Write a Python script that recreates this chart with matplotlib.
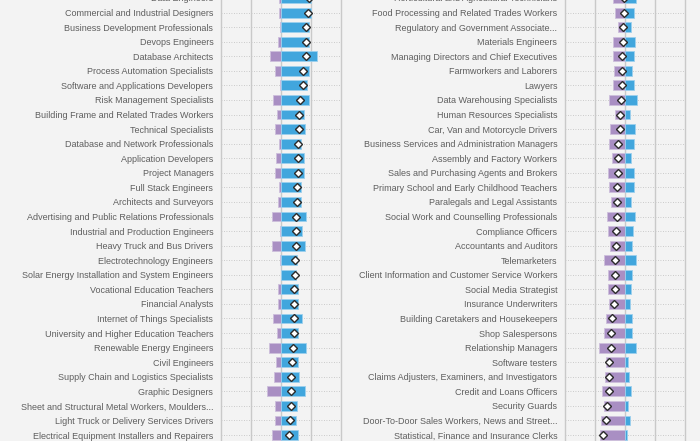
import numpy as np
import matplotlib
matplotlib.use('Agg')
import matplotlib.pyplot as plt

# left panel: rising occupations
left_jobs = ['Data Engineers', 'Commercial and Industrial Designers', 'Business Development Professionals',
             'Devops Engineers', 'Database Architects', 'Process Automation Specialists',
             'Software and Applications Developers', 'Risk Management Specialists',
             'Building Frame and Related Trades Workers', 'Technical Specialists',
             'Database and Network Professionals', 'Application Developers', 'Project Managers',
             'Full Stack Engineers', 'Architects and Surveyors',
             'Advertising and Public Relations Professionals', 'Industrial and Production Engineers',
             'Heavy Truck and Bus Drivers', 'Electrotechnology Engineers',
             'Solar Energy Installation and System Engineers', 'Vocational Education Teachers',
             'Financial Analysts', 'Internet of Things Specialists',
             'University and Higher Education Teachers', 'Renewable Energy Engineers',
             'Civil Engineers', 'Supply Chain and Logistics Specialists', 'Graphic Designers',
             'Sheet and Structural Metal Workers, Moulders...',
             'Light Truck or Delivery Services Drivers',
             'Electrical Equipment Installers and Repairers']
left_decline = [-0.7, -0.8, -0.4, -1.0, -3.8, -2.0, -0.3, -2.8, -1.4, -1.9, -0.7, -1.7, -2.0, -0.8,
                -1.0, -2.9, -0.4, -2.9, -0.2, -0.1, -1.1, -1.1, -2.6, -1.4, -4.0, -1.7, -2.3,
                -4.8, -1.9, -2.0, -2.9]
left_growth = [10.0, 10.0, 9.3, 9.3, 12.1, 9.4, 8.7, 9.2, 7.7, 8.0, 6.7, 7.6, 7.8, 6.7, 6.6, 8.2,
               6.9, 7.9, 5.3, 5.1, 5.7, 5.7, 7.0, 5.8, 8.3, 5.7, 5.9, 8.1, 5.2, 5.1, 5.8]
left_net = [9.3, 8.9, 8.4, 8.3, 8.2, 7.2, 7.2, 6.3, 6.1, 5.9, 5.8, 5.8, 5.6, 5.4, 5.3, 5.1, 5.0,
            4.9, 4.7, 4.6, 4.4, 4.3, 4.3, 4.2, 4.1, 3.7, 3.4, 3.2, 3.2, 3.0, 2.8]

# right panel: declining occupations
right_jobs = ['Horticultural and Agricultural Technicians',
              'Food Processing and Related Trades Workers', 'Regulatory and Government Associate...',
              'Materials Engineers', 'Managing Directors and Chief Executives',
              'Farmworkers and Laborers', 'Lawyers', 'Data Warehousing Specialists',
              'Human Resources Specialists', 'Car, Van and Motorcycle Drivers',
              'Business Services and Administration Managers', 'Assembly and Factory Workers',
              'Sales and Purchasing Agents and Brokers',
              'Primary School and Early Childhood Teachers', 'Paralegals and Legal Assistants',
              'Social Work and Counselling Professionals', 'Compliance Officers',
              'Accountants and Auditors', 'Telemarketers',
              'Client Information and Customer Service Workers', 'Social Media Strategist',
              'Insurance Underwriters', 'Building Caretakers and Housekeepers', 'Shop Salespersons',
              'Relationship Managers', 'Software testers',
              'Claims Adjusters, Examiners, and Investigators', 'Credit and Loans Officers',
              'Security Guards', 'Door-To-Door Sales Workers, News and Street...',
              'Statistical, Finance and Insurance Clerks']
right_decline = [-4.1, -3.4, -2.4, -3.9, -3.9, -3.6, -4.1, -5.2, -3.2, -4.9, -5.3, -4.3, -5.6, -5.3,
                 -4.7, -5.9, -5.6, -5.1, -6.9, -5.7, -5.7, -5.4, -6.5, -7.1, -8.7, -6.2, -6.8,
                 -7.6, -7.0, -8.1, -8.2]
right_growth = [3.7, 3.0, 1.9, 3.2, 3.0, 2.4, 3.0, 4.0, 1.6, 3.2, 3.1, 2.1, 3.1, 2.9, 2.1, 3.2,
                2.7, 2.3, 3.6, 2.3, 2.0, 1.6, 2.3, 2.3, 3.8, 1.0, 1.4, 2.1, 1.0, 1.7, 0.6]
right_net = [-0.4, -0.4, -0.7, -0.8, -0.9, -1.0, -1.1, -1.3, -1.7, -1.7, -2.2, -2.4, -2.5, -2.6,
             -2.7, -2.8, -2.9, -3.0, -3.2, -3.3, -3.4, -3.8, -4.4, -4.7, -4.8, -5.2, -5.2, -5.3,
             -6.0, -6.4, -7.3]

bg = '#f3f3f3'
blue = '#41a6dd'
purple = '#a98fc3'
gridc = '#c9c9c9'

fig = plt.figure(figsize=(7, 4.41), dpi=100, facecolor=bg)
plt.rcParams['font.family'] = ['Liberation Sans', 'DejaVu Sans']


def panel(left, jobs, dec, gro, net):
    # axes runs a bit past the top/bottom edges so the first row is cut like the original
    ax = fig.add_axes([left, -0.0063, 120 / 700, 1.0307])
    ax.set_facecolor(bg)
    y = np.arange(len(jobs))
    for yy in y:
        ax.plot([-20, 20], [yy, yy], color='#bdbdbd', lw=0.6, ls=(0, (1, 2)), zorder=1)
    for xx in [-10, 0, 10]:
        ax.axvline(xx, color=gridc, lw=1, zorder=1)
    ax.barh(y, dec, height=0.68, color=purple, edgecolor='#cdbfdc', lw=0.6, zorder=2)
    ax.barh(y, gro, height=0.68, color=blue, edgecolor='#9dd0ee', lw=0.6, zorder=2)
    ax.plot(net, y, 'D', ms=4.0, mfc='white', mec='#2b2b2b', mew=1.0, zorder=3)
    ax.set_xlim(-20, 20)
    ax.set_ylim(30.6, -0.6)
    ax.set_yticks(y)
    ax.set_yticklabels(jobs, fontsize=6.5, color='#5e5e5e')
    ax.set_xticks([])
    ax.tick_params(axis='y', length=0, pad=5.5)
    for s in ['top', 'bottom']:
        ax.spines[s].set_visible(False)
    for s in ['left', 'right']:
        ax.spines[s].set_color(gridc)
        ax.spines[s].set_linewidth(1)
    return ax


panel(221 / 700, left_jobs, left_decline, left_growth, left_net)
panel(565 / 700, right_jobs, right_decline, right_growth, right_net)

fig.savefig('out.png', dpi=100, facecolor=bg)
